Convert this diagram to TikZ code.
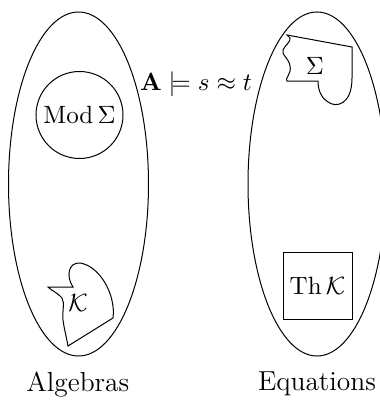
\documentclass[tikz,border=0pt]{standalone}
\usepackage{amsmath,amssymb}
\usepackage{tikz}
\usetikzlibrary{shapes,positioning}

\begin{document}
\begin{tikzpicture}[x=0.4pt,y=-0.4pt,
    classname/.style={font=\fontsize{11}{13}\selectfont}]
    \useasboundingbox (0,0) rectangle (380,400);
    % the two classes
    \node[ellipse, draw, minimum width=56pt, minimum height=137.6pt] (algebras) at (78.5,184) {};
    \node[ellipse, draw, minimum width=55.2pt, minimum height=137.6pt] (equations) at (317,184) {};
    \node[classname] (alglabel) at (78,384) {Algebras};
    \node[classname] (eqlabel) at (317,384) {Equations};
    % inside
    \node[circle, draw, minimum size=34.8pt, inner sep=0pt] (mod) at (79.5,115) {$\operatorname{Mod}\Sigma$};
    \node[draw, minimum width=27.6pt, minimum height=26.8pt, inner sep=1pt] (th) at (317.5,285.5) {$\operatorname{Th}\mathcal{K}$};
    \node (sig) at (315,66) {$\Sigma$};
    \node (kay) at (78,303) {$\mathcal{K}$};
    \node (models) at (196,84) {$\mathbf{A}\models s\approx t$};
    % blobs
    \draw (287,35) -- (352,47) -- (352,78)
        .. controls (352,105) and (336,108) .. (328,102)
        .. controls (320,97) and (318,88) .. (318,81) -- (287,81)
        .. controls (284,79) and (292,74) .. (290,66)
        .. controls (289,58) and (281,55) .. (283,50)
        .. controls (285,45) and (291,42) .. (290,38) -- cycle;
    \draw (48,287) -- (73,287)
        .. controls (66,277) and (68,262) .. (80,263)
        .. controls (100,266) and (116,295) .. (113,318) -- (68,346)
        .. controls (66,335) and (64,328) .. (63,320)
        .. controls (62,312) and (65,303) .. (62,298)
        .. controls (58,293) and (52,291) .. cycle;
\end{tikzpicture}
\end{document}
